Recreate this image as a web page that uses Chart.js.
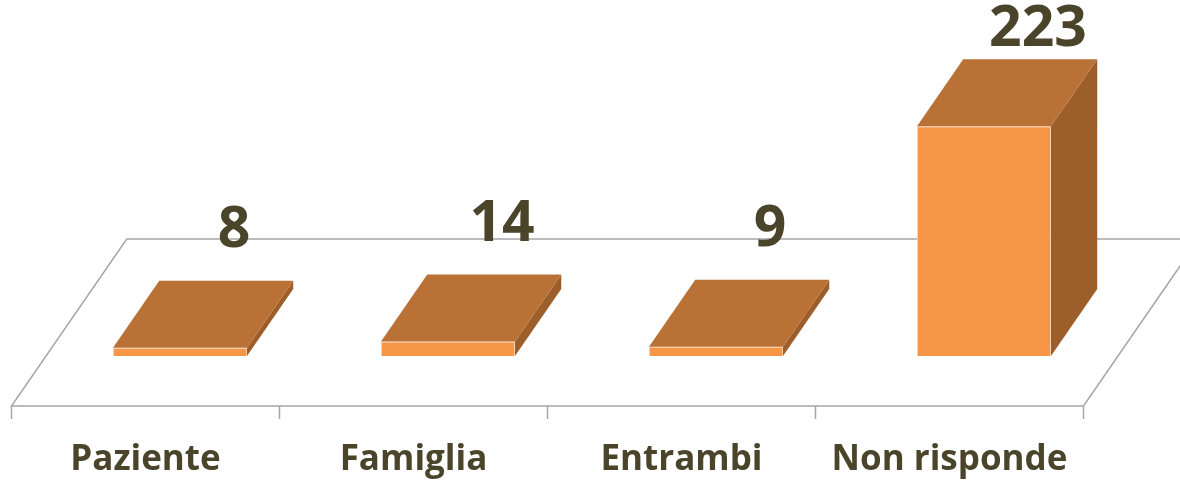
<!DOCTYPE html>
<html>
<head>
<meta charset="utf-8">
<script src="https://cdn.jsdelivr.net/npm/chart.js@4.4.1/dist/chart.umd.min.js"></script>
<style>
  html, body { margin: 0; padding: 0; background: #fff; }
  #wrap { width: 1180px; height: 483px; }
</style>
</head>
<body>
<div id="wrap"><canvas id="barChart" width="1180" height="483"></canvas></div>
<script>
// data
const categories = ['Paziente', 'Famiglia', 'Entrambi', 'Non risponde'];
const answers = [8, 14, 9, 223];

const textColor = '#4A452A';
const slant = 0.69;      // horizontal shift per vertical px of depth
const frontGap = 50;     // floor front edge below bar base
const backGap = 117;     // floor back edge above bar base
const barDepth = 67;

// floor, front edge ticks and category names
const floorPlugin = {
  id: 'floor',
  beforeDatasetsDraw(chart) {
    const { ctx, chartArea, scales } = chart;
    const base = scales.y.getPixelForValue(0);
    const fy = base + frontGap, by = base - backGap;
    const fl = chartArea.left - frontGap * slant, fr = chartArea.right - frontGap * slant;
    const shift = (frontGap + backGap) * slant;
    ctx.save();
    ctx.strokeStyle = '#A6A6A6';
    ctx.lineWidth = 1.5;
    ctx.beginPath();
    ctx.moveTo(fl, fy); ctx.lineTo(fr, fy);
    ctx.lineTo(fr + shift, by); ctx.lineTo(fl + shift, by);
    ctx.closePath();
    ctx.stroke();
    const step = (fr - fl) / categories.length;
    ctx.beginPath();
    for (let i = 0; i <= categories.length; i++) {
      ctx.moveTo(fl + i * step, fy);
      ctx.lineTo(fl + i * step, fy + 13);
    }
    ctx.stroke();
    ctx.fillStyle = textColor;
    ctx.font = 'bold 35px "Open Sans"';
    ctx.textAlign = 'center';
    ctx.textBaseline = 'middle';
    categories.forEach((c, i) => {
      ctx.fillText(c, scales.x.getPixelForValue(i) - frontGap * slant, 460);
    });
    ctx.restore();
  }
};

// top and side faces plus value labels
const boxPlugin = {
  id: 'box',
  afterDatasetsDraw(chart) {
    const { ctx } = chart;
    const dx = barDepth * slant, dy = barDepth;
    ctx.save();
    chart.getDatasetMeta(0).data.forEach((bar, i) => {
      const l = bar.x - bar.width / 2, r = bar.x + bar.width / 2;
      const t = bar.y, b = bar.base;
      ctx.fillStyle = '#9C5E2A';
      ctx.beginPath();
      ctx.moveTo(r, t); ctx.lineTo(r + dx, t - dy); ctx.lineTo(r + dx, b - dy); ctx.lineTo(r, b);
      ctx.closePath(); ctx.fill();
      ctx.fillStyle = '#BA7135';
      ctx.beginPath();
      ctx.moveTo(l, t); ctx.lineTo(l + dx, t - dy); ctx.lineTo(r + dx, t - dy); ctx.lineTo(r, t);
      ctx.closePath(); ctx.fill();

      ctx.fillStyle = textColor;
      ctx.font = 'bold 57px "Open Sans"';
      ctx.textAlign = 'center';
      ctx.textBaseline = 'middle';
      const ly = Math.max(t - dy - 50, 30);
      ctx.fillText(String(answers[i]), bar.x + 54, ly);
    });
    ctx.restore();
  }
};

new Chart(document.getElementById('barChart').getContext('2d'), {
  type: 'bar',
  data: {
    labels: categories,
    datasets: [{
      data: answers,
      backgroundColor: '#F79646',
      borderColor: 'rgba(252,206,168,0.9)',
      borderWidth: 1,
      categoryPercentage: 1,
      barPercentage: 0.5
    }]
  },
  options: {
    responsive: false,
    animation: false,
    layout: { padding: { left: 46, right: 62, top: 47, bottom: 127 } },
    plugins: { legend: { display: false }, tooltip: { enabled: false } },
    scales: {
      x: { display: false },
      y: { display: false, min: 0, max: 300 }
    }
  },
  plugins: [floorPlugin, boxPlugin]
});
</script>
</body>
</html>
